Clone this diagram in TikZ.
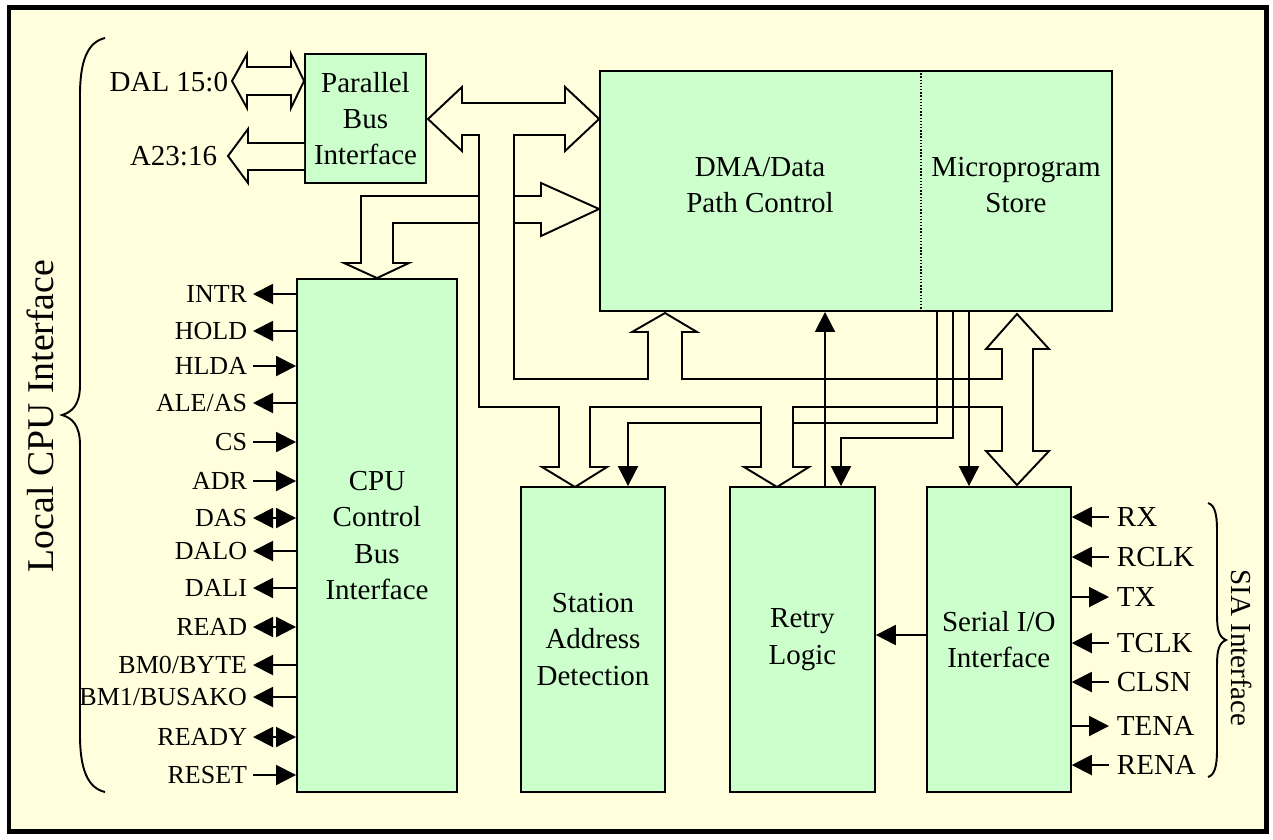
\documentclass[tikz,border=0pt]{standalone}
\usepackage{fontspec}
\setmainfont{Liberation Serif}
\usepackage{tikz}
\usetikzlibrary{arrows.meta,positioning,calc}

\definecolor{paper}{RGB}{255,255,221}
\definecolor{chip}{RGB}{204,255,204}

\begin{document}
\begin{tikzpicture}[x=0.02cm,y=-0.02cm,>={Triangle[length=0.4cm,width=0.4cm]},line width=1.1pt,
  block/.style={draw,fill=chip,inner sep=0pt,align=center,font=\fontsize{16.5}{20.7}\selectfont},
  bus/.style={draw,fill=paper,line join=miter},
  lbl/.style={inner sep=0pt,font=\fontsize{16.5}{20.7}\selectfont},
  pinlbl/.style={inner sep=0.1cm,anchor=east,font=\fontsize{14.8}{17}\selectfont},
  siglbl/.style={inner sep=0.14cm,anchor=west,font=\fontsize{16.5}{20.7}\selectfont},
  pinout/.style={->},pinin/.style={<-},pinbi/.style={<->}]

  \useasboundingbox (0,0) rectangle (1273,839);
  \draw[line width=0.1cm,fill=paper] (9,7) rectangle (1266,831);

  % blocks
  \node[block,minimum width=2.42cm,minimum height=2.58cm] (pbi) at (365.5,118.5) {Parallel\\Bus\\Interface};
  \node[block,minimum width=10.24cm,minimum height=4.8cm] (core) at (856,191) {};
  \draw[densely dotted,line width=0.8pt] (core.north -| 921,0) -- (core.south -| 921,0);
  \node[lbl,align=center] (dmatxt) at (760,185) {DMA/Data\\Path Control};
  \node[lbl,align=center] (mpstxt) at (1016,185) {Microprogram\\Store};
  \node[block,minimum width=3.2cm,minimum height=10.26cm] (cpu) at (377,535.5) {CPU\\Control\\Bus\\Interface};
  \node[block,minimum width=2.88cm,minimum height=6.1cm] (sad) at (593,639.5) {Station\\Address\\Detection};
  \node[block,minimum width=2.9cm,minimum height=6.1cm,right=1.26cm of sad] (retry) {Retry\\Logic};
  \node[block,minimum width=2.88cm,minimum height=6.1cm,right=1.0cm of retry] (serial) {Serial I/O\\Interface};

  % parallel bus side
  \node[lbl,anchor=east] (dal) at (229,82) {DAL 15:0};
  \node[lbl,anchor=east] (addr) at (218,156) {A23:16};
  \draw[bus] (232,81) -- (247,54) -- (247,67) -- (291,67) -- (291,54) -- (pbi.west |- 0,81)
    -- (291,108) -- (291,95) -- (247,95) -- (247,108) -- cycle;
  \draw[bus] (pbi.west |- 0,143) -- (248,143) -- (248,129) -- (228,156) -- (248,183)
    -- (248,170) -- (pbi.west |- 0,170);

  % cpu <-> dma path
  \draw[bus] (361,263) -- (361,196) -- (541,196) -- (541,183) -- (core.west |- 0,209) -- (541,236)
    -- (541,223) -- (393,223) -- (393,263) -- (409,263) -- (cpu.north -| 377,0) -- (344,263) -- cycle;
  \draw[->] (core.south -| 937,0) |- (628,423) -- (sad.north -| 628,0);

  % internal bus
  \draw[bus] (428,119) -- (462,87) -- (462,103) -- (565,103) -- (565,87) -- (core.west |- 0,119)
    -- (565,151) -- (565,135) -- (514,135) -- (514,379) -- (648,379) -- (648,332) -- (632,332)
    -- (665,313) -- (697,332) -- (682,332) -- (682,379) -- (1002,379) -- (1002,349) -- (986,349)
    -- (1017,314) -- (1049,349) -- (1033,349) -- (1033,451) -- (1049,451) -- (1017,485) -- (986,451)
    -- (1002,451) -- (1002,407) -- (793,407) -- (793,467) -- (809,467) -- (777,487) -- (744,467)
    -- (761,467) -- (761,407) -- (590,407) -- (590,467) -- (607,467) -- (575,487) -- (542,467)
    -- (559,467) -- (559,407) -- (479,407) -- (479,135) -- (462,135) -- (462,151) -- cycle;

  % control lines
  \draw (core.south -| 937,0) -- (937,423);
  \draw[->] (core.south -| 953,0) |- (841,438) -- (retry.north -| 841,0);
  \draw[->] (core.south -| 969,0) -- (serial.north -| 969,0);
  \draw[->] (retry.north -| 825,0) -- (core.south -| 825,0);
  \draw[->] (serial.west |- 0,635) -- (retry.east |- 0,635);

  % cpu pins
  \foreach \y/\name/\kind [count=\i] in {294/INTR/out,331/HOLD/out,366/HLDA/in,403/{ALE/AS}/out,
      442/CS/in,481/ADR/in,518/DAS/bi,551/DALO/out,588/DALI/out,627/READ/bi,665/{BM0/BYTE}/out,
      697/{BM1/BUSAKO}/out,737/READY/bi,775/RESET/in}{
    \node[pinlbl] (pin\i) at (253,\y) {\name};
    \draw[pin\kind] (cpu.west |- pin\i.east) -- (pin\i.east);
  }

  % serial pins
  \foreach \y/\name/\kind in {517/RX/in,557/RCLK/in,597/TX/out,643/TCLK/in,682/CLSN/in,
      726/TENA/out,765/RENA/in}{
    \node[siglbl] (\name) at (1109,\y) {\name};
    \draw[pin\kind] (serial.east |- \name.west) -- (\name.west);
  }

  % braces
  \draw (105,38) .. controls (88,42) and (80,60) .. (80,95) -- (80,385)
    .. controls (80,405) and (72,412) .. (62,415) .. controls (72,418) and (80,425) .. (80,445)
    -- (80,735) .. controls (80,770) and (88,788) .. (105,792);
  \node[lbl,rotate=90,font=\fontsize{21.5}{24}\selectfont] (cpuside) at (40,416) {Local CPU Interface};
  \draw (1208,503) .. controls (1215,505) and (1217,515) .. (1217,530) -- (1217,615)
    .. controls (1217,630) and (1219,637) .. (1226,640) .. controls (1219,643) and (1217,650) .. (1217,665)
    -- (1217,750) .. controls (1217,765) and (1215,775) .. (1208,777);
  \node[lbl,rotate=-90] (siaside) at (1242,648) {SIA Interface};
\end{tikzpicture}
\end{document}
